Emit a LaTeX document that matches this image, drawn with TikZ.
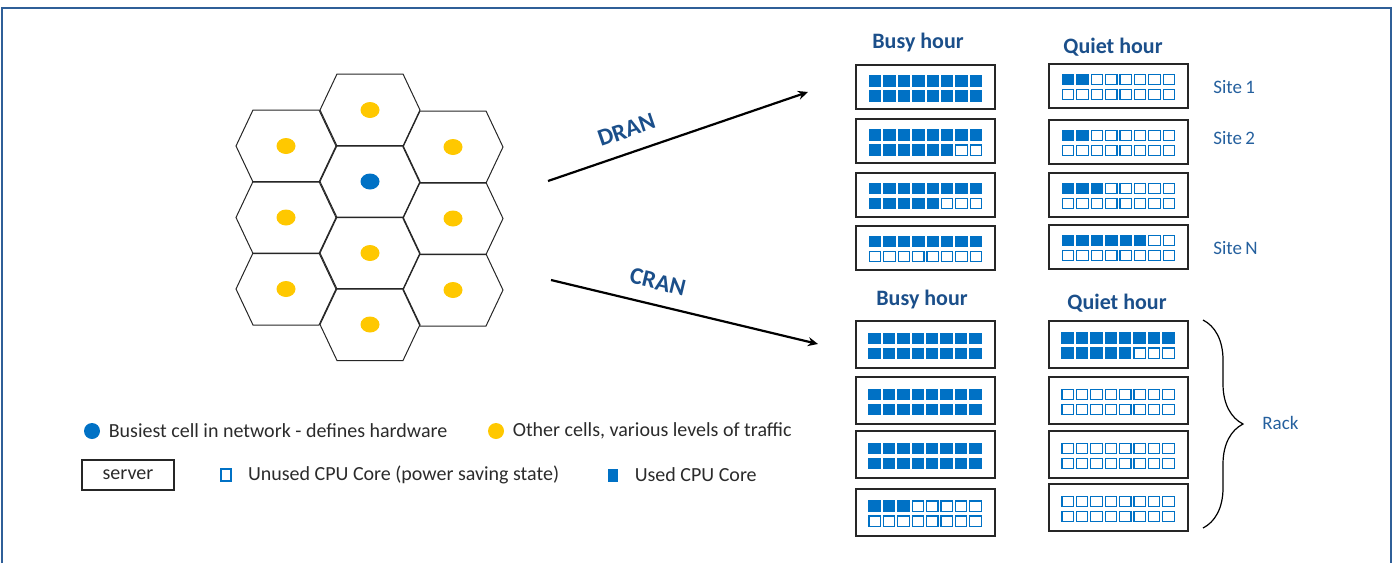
\documentclass[tikz,border=0pt]{standalone}
\usepackage{fontspec}
\setmainfont{Carlito}
\usetikzlibrary{shapes.geometric, arrows.meta, decorations.pathreplacing, positioning}

\definecolor{coreblue}{HTML}{0071C5}
\definecolor{titleblue}{HTML}{1B4F8A}
\definecolor{siteblue}{HTML}{25609E}
\definecolor{cellyellow}{HTML}{FFC800}
\definecolor{frameblue}{HTML}{2F5F98}
\definecolor{legendgray}{HTML}{2B2B2B}

\tikzset{
    hexcell/.style={draw=black!85, line width=0.5pt},
    celldot/.style={ellipse, minimum width=9.5pt, minimum height=8pt, inner sep=0pt},
    serverbox/.style={draw=black!85, line width=1pt, minimum width=69.5pt, inner sep=0pt},
    usedcore/.style={fill=coreblue, draw=none},
    freecore/.style={fill=white, draw=coreblue, line width=0.6pt},
    hourtitle/.style={font=\bfseries\fontsize{11}{13}\selectfont, text=titleblue},
    sitelabel/.style={font=\fontsize{9.5}{11}\selectfont, text=siteblue, inner sep=0pt, anchor=west},
    legendtext/.style={font=\fontsize{10}{12}\selectfont, text=legendgray, inner sep=0pt},
    ranlabel/.style={font=\bfseries\fontsize{12}{14}\selectfont, text=titleblue, inner sep=1pt},
    ranarrow/.style={line width=1.1pt, -{Stealth[length=5pt,width=4.5pt]}}
}

% hexagon cell with its dot: name, x, y, colour
\newcommand{\hexcellat}[4]{%
    \draw[hexcell] (#2-50,#3) -- (#2-33,#3-36) -- (#2+33,#3-36) -- (#2+50,#3)
        -- (#2+33,#3+36) -- (#2-33,#3+36) -- cycle;
    \node[celldot, fill=#4] (#1) at (#2,#3) {};
}
% one core square: style, x, y, half width, half height
\newcommand{\coreat}[5]{\draw[#1] (#2-#4,#3-#5) rectangle (#2+#4,#3+#5);}
% server of 16 cores: name, x, y, height, cores in use
\newcommand{\serverat}[5]{%
    \node[serverbox, minimum height=#4] (#1) at (#2,#3) {};
    \foreach \k in {0,...,15}{
        \pgfmathsetmacro{\corex}{#2+(mod(\k,8)-3.5)*14.4}
        \pgfmathsetmacro{\corey}{#3+(int(\k/8)-0.5)*15+1.5}
        \ifnum\k<#5 \coreat{usedcore}{\corex}{\corey}{6.2}{5.6}%
        \else\coreat{freecore}{\corex}{\corey}{5.7}{5.1}\fi
    }
}

\begin{document}
\begin{tikzpicture}[x=0.5pt, y=-0.5pt]
    \useasboundingbox (0,0) rectangle (1395,563);
    \draw[frameblue, line width=1.2pt] (2,563) -- (2,8) -- (1391,8) -- (1391,563);

    % cells
    \hexcellat{hl1}{286}{146}{cellyellow}
    \hexcellat{hl2}{286}{217.5}{cellyellow}
    \hexcellat{hl3}{286}{289}{cellyellow}
    \hexcellat{hm1}{370}{110}{cellyellow}
    \hexcellat{hm2}{370}{181.5}{coreblue}
    \hexcellat{hm3}{370}{253}{cellyellow}
    \hexcellat{hm4}{370}{324.5}{cellyellow}
    \hexcellat{hr1}{453}{147}{cellyellow}
    \hexcellat{hr2}{453}{218.5}{cellyellow}
    \hexcellat{hr3}{453}{290}{cellyellow}

    % DRAN / CRAN
    \coordinate (dranfrom) at (548,181);
    \coordinate (dranto) at (808,92);
    \coordinate (cranfrom) at (551,280);
    \coordinate (cranto) at (818,344);
    \draw[ranarrow] (dranfrom) -- node[ranlabel, pos=0.33, sloped, above=6pt] {DRAN} (dranto);
    \draw[ranarrow] (cranfrom) -- node[ranlabel, pos=0.38, sloped, above=6pt] {CRAN} (cranto);

    \node[hourtitle] (dbusy) at (918,43) {Busy hour};
    \node[hourtitle] (dquiet) at (1113,47) {Quiet hour};
    \node[hourtitle] (cbusy) at (922,300) {Busy hour};
    \node[hourtitle] (cquiet) at (1117,303) {Quiet hour};

    \serverat{db1}{925.5}{87}{22pt}{16}
    \serverat{db2}{925.5}{141}{22pt}{14}
    \serverat{db3}{925.5}{194.5}{22pt}{13}
    \serverat{db4}{925.5}{247.5}{22pt}{8}
    \serverat{dq1}{1118.5}{85.5}{22pt}{2}
    \serverat{dq2}{1118.5}{141.5}{22pt}{2}
    \serverat{dq3}{1118.5}{194.5}{22pt}{3}
    \serverat{dq4}{1118.5}{246.5}{22pt}{6}

    \serverat{cb1}{925}{344.5}{23.5pt}{16}
    \serverat{cb2}{925}{400.5}{23.5pt}{16}
    \serverat{cb3}{925}{454.5}{23.5pt}{16}
    \serverat{cb4}{925}{512}{23.5pt}{3}
    \serverat{cq1}{1118}{344}{23.5pt}{13}
    \serverat{cq2}{1118}{400.5}{23.5pt}{0}
    \serverat{cq3}{1118}{454.5}{23.5pt}{0}
    \serverat{cq4}{1118}{507.5}{23.5pt}{0}

    \node[sitelabel] (site1) at (1213,87) {Site\,1};
    \node[sitelabel] (site2) at (1213,138) {Site\,2};
    \node[sitelabel] (siten) at (1213,248) {Site\,N};

    \draw[decorate, decoration={brace, amplitude=20pt}, line width=0.6pt] (1203,320) -- (1203,528);
    \node[sitelabel] (rack) at (1262,423) {Rack};

    % legend
    \node[celldot, fill=coreblue, minimum width=8pt] (busydot) at (92,431) {};
    \node[legendtext, right=4pt of busydot] (busytext) {Busiest cell in network - defines hardware};
    \node[celldot, fill=cellyellow, minimum width=8pt] (otherdot) at (496,431) {};
    \node[legendtext, right=4pt of otherdot] (othertext) {Other cells, various levels of traffic};
    \node[legendtext, draw=black!85, line width=0.8pt, minimum width=46pt, minimum height=15pt] (serverkey) at (128,475) {server};
    \node[freecore, minimum width=5pt, minimum height=6pt, inner sep=0pt] (freekey) at (226,475) {};
    \node[legendtext, right=8pt of freekey] (freetext) {Unused CPU Core (power saving state)};
    \node[usedcore, minimum width=5pt, minimum height=6.5pt, inner sep=0pt] (usedkey) at (613,475) {};
    \node[legendtext, right=8pt of usedkey] (usedtext) {Used CPU Core};
\end{tikzpicture}
\end{document}
